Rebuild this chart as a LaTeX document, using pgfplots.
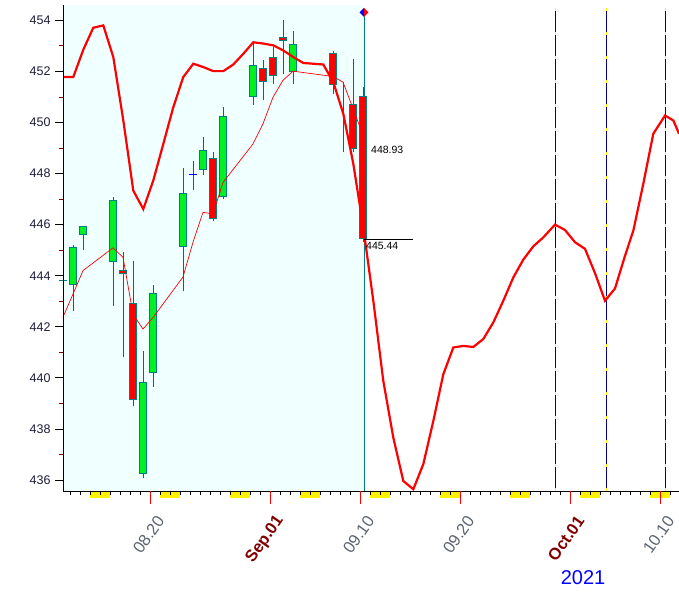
\documentclass[border=0pt]{standalone}
\usepackage{pgfplots}
\pgfplotsset{compat=1.18}
\usepackage{fontspec}
\setmainfont{Liberation Sans}
\definecolor{bgcyan}{HTML}{F0FFFF}
\definecolor{cgreen}{HTML}{00F020}
\definecolor{cteal}{HTML}{008080}
\definecolor{dred}{HTML}{800000}
\definecolor{xlab}{HTML}{5A6470}
\definecolor{navyc}{HTML}{000080}
\definecolor{ylab}{HTML}{1E1E3C}

% x open high low close fill
\newcommand{\candle}[6]{%
  \addplot[red, line width=0.8pt, forget plot] coordinates {(#1,#4) (#1,#3)};
  \pgfmathsetmacro{\xa}{#1-0.36}\pgfmathsetmacro{\xb}{#1+0.36}%
  \edef\tmpcandle{\noexpand\addplot[fill=#6, draw=cteal, line width=0.9pt, forget plot] coordinates {(\xa,#2) (\xb,#2) (\xb,#5) (\xa,#5)} -- cycle;}%
  \tmpcandle
}
\newcommand{\wkend}[2]{\fill[yellow] (axis cs:#1,435.57) rectangle (axis cs:#2,435.30);}
\newcommand{\cycline}[1]{%
  \draw[navyc, line width=1pt] (axis cs:#1,435.57) -- (axis cs:#1,454.5);
  \draw[yellow, line width=1pt, dash pattern=on 3pt off 21pt] (axis cs:#1,435.57) -- (axis cs:#1,454.5);}

\begin{document}
\begin{tikzpicture}
\useasboundingbox (0pt,0pt) rectangle (679pt,610pt);
\begin{axis}[
  at={(63pt,119pt)}, anchor=south west,
  width=616pt, height=486pt, scale only axis,
  xmin=-20.75, xmax=40.85, ymin=435.57, ymax=454.6,
  axis x line*=bottom, axis y line*=left,
  axis line style={black, line width=1pt, -},
  clip=false, axis on top,
  tick align=outside,
  major tick length=8pt, minor tick length=4pt,
  xtick={-30}, minor xtick={-20,...,40},
  minor x tick style={black, line width=0.8pt},
  ytick={436,438,...,454}, minor ytick={437,439,...,453},
  ytick style={black, line width=0.8pt},
  minor y tick style={dred, line width=0.8pt},
  yticklabel style={font=\fontsize{12.5}{14}\selectfont, text=ylab, xshift=-1pt},
  yticklabels={436,438,440,442,444,446,448,450,452,454},
  extra x ticks={-12,0,9,19,30,39},
  extra x tick labels={08.20,\textbf{\textcolor{dred}{Sep.01}},09.10,09.20,\textbf{\textcolor{dred}{Oct.01}},10.10},
  extra x tick style={major tick length=13pt, tick style={red, line width=0.8pt},
    tick label style={rotate=55, anchor=east, text=xlab, font=\fontsize{16.5}{18}\selectfont, xshift=-2pt, yshift=-16pt}},
]
% background of the past
\fill[bgcyan] (axis cs:-20.75,435.57) rectangle (axis cs:9.35,454.6);
% weekend marks
\wkend{-18.05}{-16.05}
\wkend{-11.05}{-9.05}
\wkend{-4.05}{-2.05}
\wkend{2.95}{4.95}
\wkend{9.95}{11.95}
\wkend{16.95}{18.95}
\wkend{23.95}{25.95}
\wkend{30.95}{32.95}
\wkend{37.95}{39.95}
% cycle markers
\cycline{28.48}
\cycline{33.58}
\cycline{39.48}
% current day line
\draw[cteal, line width=1pt] (axis cs:9.35,435.57) -- (axis cs:9.35,454.31);

% candles
\candle{-20.75}{443.80}{443.85}{442.50}{443.82}{cteal}
\candle{-19.75}{443.64}{445.22}{442.60}{445.09}{cgreen}
\candle{-18.75}{445.60}{445.92}{445.02}{445.92}{cgreen}
\candle{-15.75}{444.54}{447.07}{442.82}{446.94}{cgreen}
\candle{-14.75}{444.22}{444.91}{440.80}{444.07}{red}
\candle{-13.75}{442.93}{444.59}{438.88}{439.16}{red}
\candle{-12.75}{436.26}{441.06}{436.07}{439.83}{cgreen}
\candle{-11.75}{440.22}{443.63}{439.66}{443.32}{cgreen}
\candle{-8.75}{445.16}{448.20}{443.39}{447.24}{cgreen}
\addplot[red, line width=0.8pt] coordinates {(-7.75,447.37) (-7.75,448.51)};
\addplot[blue, line width=1pt] coordinates {(-8.15,447.95) (-7.35,447.95)};
\candle{-6.75}{448.18}{449.42}{447.95}{448.89}{cgreen}
\candle{-5.75}{448.58}{448.84}{446.13}{446.26}{red}
\candle{-4.75}{447.12}{450.60}{447.02}{450.22}{cgreen}
\candle{-1.75}{451.02}{453.15}{450.69}{452.24}{cgreen}
\candle{-0.75}{452.11}{452.43}{450.89}{451.61}{red}
\candle{0.25}{452.54}{452.95}{451.49}{451.83}{red}
\candle{1.25}{453.32}{454.00}{451.91}{453.22}{red}
\candle{2.25}{451.99}{453.58}{451.52}{453.06}{cgreen}
\candle{6.25}{452.69}{452.78}{451.13}{451.49}{red}
\addplot[red, line width=0.8pt] coordinates {(7.25,448.84) (7.25,451.58)};
\candle{8.25}{450.71}{452.50}{448.84}{449.00}{red}
\candle{9.25}{451.00}{451.38}{445.31}{445.44}{red}

% moving average
\addplot[red, line width=0.7pt] coordinates {
(-20.77,442.36) (-19.75,443.28) (-18.75,444.20) (-15.75,445.09) (-14.75,444.72)
(-13.75,442.50) (-12.75,441.91) (-11.75,442.36) (-8.75,443.95) (-7.75,445.31)
(-6.75,446.48) (-5.75,446.42) (-4.75,447.65) (-1.75,449.16) (-0.75,449.95)
(0.25,450.99) (1.25,451.65) (2.25,452.01) (6.25,451.80) (7.25,451.58)
(8.25,450.55) (9.25,449.50)};

% projected cycle line
\addplot[red, line width=2.2pt] coordinates {
(-20.75,451.78) (-19.72,451.78) (-18.72,452.85) (-17.72,453.71) (-16.72,453.80)
(-15.72,452.56) (-14.72,450.08) (-13.72,447.33) (-12.72,446.61) (-11.72,447.73)
(-10.72,449.16) (-9.72,450.60) (-8.72,451.78) (-7.72,452.30) (-6.72,452.17)
(-5.72,452.01) (-4.72,452.01) (-3.72,452.27) (-2.72,452.69) (-1.72,453.14)
(-0.72,453.09) (0.28,453.02) (1.28,452.82) (2.28,452.56) (3.28,452.33)
(4.28,452.30) (5.28,452.27) (6.28,451.58) (7.28,450.34) (8.28,448.38)
(9.28,445.89) (10.28,443.02) (11.28,439.88) (12.28,437.66) (13.28,435.96)
(14.28,435.64) (15.28,436.62) (16.28,438.31) (17.28,440.14) (18.28,441.19)
(19.28,441.25) (20.28,441.21) (21.28,441.52) (22.28,442.17) (23.28,443.02)
(24.28,443.93) (25.28,444.63) (26.28,445.15) (27.28,445.50) (28.45,446.00)
(29.45,445.79) (30.45,445.31) (31.45,445.05) (32.45,444.10) (33.45,443.02)
(34.45,443.50) (35.45,444.78) (36.28,445.76) (37.28,447.60) (38.28,449.56)
(39.45,450.27) (40.28,450.08) (40.85,449.56)};

% price labels
\draw[black, line width=0.8pt] (axis cs:9.35,445.44) -- (axis cs:14.25,445.44);
\node[anchor=west, inner sep=0pt, font=\fontsize{10.5}{12}\selectfont] at (axis cs:10.05,448.93) {448.93};
\node[anchor=west, inner sep=0pt, font=\fontsize{10.5}{12}\selectfont] at (axis cs:9.55,445.18) {445.44};
% current-day diamond
\fill[blue] (axis cs:9.35,454.31) -- ++(0pt,4.5pt) -- ++(-4.5pt,-4.5pt) -- ++(4.5pt,-4.5pt) -- cycle;
\fill[red] (axis cs:9.35,454.31) -- ++(0pt,4.5pt) -- ++(4.5pt,-4.5pt) -- ++(-4.5pt,-4.5pt) -- cycle;
\end{axis}
\node[text=blue, font=\fontsize{20}{22}\selectfont] at (583pt,32pt) {2021};
\end{tikzpicture}
\end{document}
